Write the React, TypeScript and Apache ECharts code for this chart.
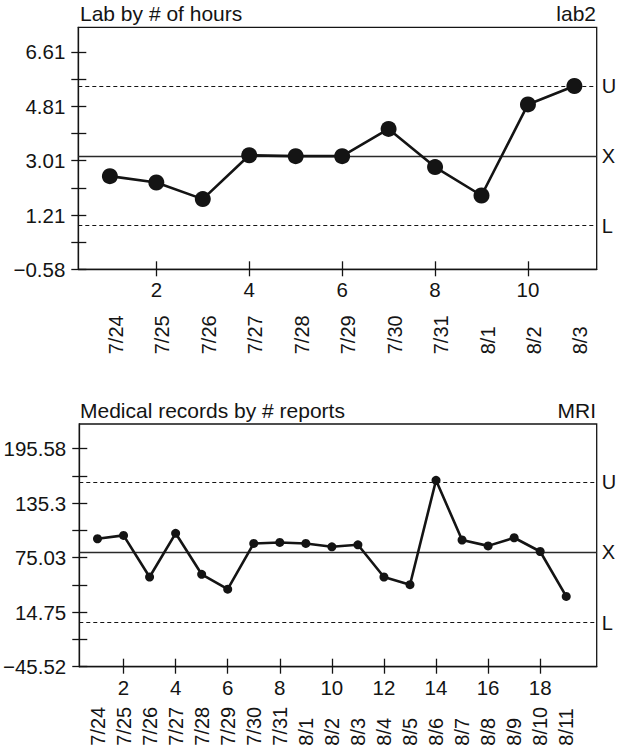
import React, { useEffect, useRef } from 'react';
import * as echarts from 'echarts';

const FONT = '"Liberation Sans", Arial, Helvetica, sans-serif';
const INK = '#141414';

// ---- Panel 1: Lab by # of hours ----
const labTitle = 'Lab by # of hours';
const labTag = 'lab2';
const labDates = ['7/24', '7/25', '7/26', '7/27', '7/28', '7/29', '7/30', '7/31', '8/1', '8/2', '8/3'];
const labValues = [2.5, 2.29, 1.74, 3.19, 3.16, 3.16, 4.06, 2.8, 1.86, 4.87, 5.48];
const labLimitNames = ['U', 'X', 'L'];
const labLimitValues = [5.48, 3.17, 0.86];
const labYTicks = [-0.58, 1.21, 3.01, 4.81, 6.61];
const labXTicks = [2, 4, 6, 8, 10];

// ---- Panel 2: Medical records by # reports ----
const mriTitle = 'Medical records by # reports';
const mriTag = 'MRI';
const mriDates = ['7/24', '7/25', '7/26', '7/27', '7/28', '7/29', '7/30', '7/31', '8/1', '8/2', '8/3', '8/4', '8/5', '8/6', '8/7', '8/8', '8/9', '8/10', '8/11'];
const mriValues = [95.9, 99.6, 53.6, 101.9, 56.6, 40.2, 90.7, 91.8, 90.7, 87.0, 89.2, 53.6, 45.1, 160.5, 94.5, 88.0, 97.0, 81.8, 32.1];
const mriLimitNames = ['U', 'X', 'L'];
const mriLimitValues = [158.2, 80.7, 3.2];
const mriYTicks = [-45.52, 14.75, 75.03, 135.3, 195.58];
const mriXTicks = [2, 4, 6, 8, 10, 12, 14, 16, 18];

const fmtNum = (v: number) => (v < 0 ? '\u2212' + String(-v) : String(v));

const withMinor = (ticks: number[]) => {
  const out: number[] = [];
  ticks.forEach((t, i) => {
    out.push(t);
    if (i < ticks.length - 1) out.push((t + ticks[i + 1]) / 2);
  });
  return out;
};

type Panel = {
  grid: any;
  xRange: [number, number];
  yRange: [number, number];
  dates: string[];
  values: number[];
  limitNames: string[];
  limitValues: number[];
  yTicks: number[];
  xTicks: number[];
  symbolSize: number;
  dateMargin: number;
  dateShift: boolean;
};

function buildPanel(p: Panel, gi: number) {
  const lineStyle = { color: INK, width: 1.3 };
  const labelBase = { color: INK, fontFamily: FONT, fontSize: 20.5 };
  const xAxes = [
    {
      type: 'value', gridIndex: gi, min: p.xRange[0], max: p.xRange[1], position: 'bottom',
      axisLine: { show: true, onZero: false, lineStyle },
      axisTick: { show: true, inside: true, length: 8, customValues: p.xTicks, lineStyle },
      axisLabel: { show: true, customValues: p.xTicks, margin: 10, ...labelBase, formatter: (v: number) => String(v) },
      splitLine: { show: false },
    },
    {
      type: 'value', gridIndex: gi, min: p.xRange[0], max: p.xRange[1], position: 'bottom',
      axisLine: { show: false, onZero: false },
      axisTick: { show: true, inside: false, length: 7, customValues: p.xTicks, lineStyle },
      axisLabel: { show: false },
      splitLine: { show: false },
    },
    {
      type: 'value', gridIndex: gi, min: p.xRange[0], max: p.xRange[1], position: 'bottom',
      axisLine: { show: false, onZero: false },
      axisTick: { show: false },
      axisLabel: {
        show: true,
        customValues: p.dates.map((_, i) => i + 1),
        formatter: (v: number) => p.dates[Math.round(v) - 1] ?? '',
        rotate: 90,
        align: 'left',
        verticalAlign: p.dateShift ? 'top' : 'middle',
        lineHeight: p.dateShift ? 12 : 20,
        margin: p.dateMargin,
        color: INK,
        fontFamily: FONT,
        fontSize: 20,
      },
      splitLine: { show: false },
    },
  ];
  const ticksAll = withMinor(p.yTicks);
  const yAxes = [
    {
      type: 'value', gridIndex: gi, min: p.yRange[0], max: p.yRange[1], position: 'left',
      axisLine: { show: true, onZero: false, lineStyle },
      axisTick: { show: true, inside: true, length: 8, customValues: ticksAll, lineStyle },
      axisLabel: { show: true, customValues: p.yTicks, margin: 13, ...labelBase, formatter: (v: number) => fmtNum(v) },
      splitLine: { show: false },
    },
    {
      type: 'value', gridIndex: gi, min: p.yRange[0], max: p.yRange[1], position: 'left',
      axisLine: { show: false, onZero: false },
      axisTick: { show: true, inside: false, length: 7, customValues: ticksAll, lineStyle },
      axisLabel: { show: false },
      splitLine: { show: false },
    },
  ];
  const series = {
    type: 'line',
    xAxisIndex: gi * 3,
    yAxisIndex: gi * 2,
    data: p.values.map((v, i) => [i + 1, v]),
    symbol: 'circle',
    symbolSize: p.symbolSize,
    itemStyle: { color: INK },
    lineStyle: { color: INK, width: 2.6 },
    z: 5,
    markLine: {
      silent: true,
      symbol: ['none', 'none'],
      z: 3,
      label: { show: true, position: 'end', distance: 5, color: INK, fontFamily: FONT, fontSize: 20 },
      data: p.limitNames.map((n, i) => ({
        yAxis: p.limitValues[i],
        lineStyle: n === 'X'
          ? { type: 'solid', color: '#2a2a2a', width: 1.3 }
          : { type: [4, 3], color: INK, width: 1.1 },
        label: { formatter: n },
      })),
    },
  };
  return { xAxes, yAxes, series };
}

export default function App() {
  const ref = useRef<HTMLDivElement>(null);
  useEffect(() => {
    if (!ref.current) return;
    const chart = echarts.init(ref.current, null, { renderer: 'svg' });
    const panels: Panel[] = [
      {
        grid: { left: 78.3, top: 27.3, width: 518.4, height: 242 },
        xRange: [0.32, 11.48], yRange: [-0.58, 7.42],
        dates: labDates, values: labValues, limitNames: labLimitNames, limitValues: labLimitValues,
        yTicks: labYTicks, xTicks: labXTicks, symbolSize: 16, dateMargin: 85, dateShift: true,
      },
      {
        grid: { left: 79, top: 424, width: 517.7, height: 242.7 },
        xRange: [0.3, 20.17], yRange: [-45.52, 222.7],
        dates: mriDates, values: mriValues, limitNames: mriLimitNames, limitValues: mriLimitValues,
        yTicks: mriYTicks, xTicks: mriXTicks, symbolSize: 9, dateMargin: 79, dateShift: false,
      },
    ];
    const built = panels.map((p, i) => buildPanel(p, i));
    const titleStyle = { color: INK, fontFamily: FONT, fontSize: 21, fontWeight: 'normal' as const };
    chart.setOption({
      animation: false,
      backgroundColor: '#ffffff',
      title: [
        { text: labTitle, left: 80, top: 3, padding: 0, textStyle: titleStyle },
        { text: labTag, right: 22, top: 3, padding: 0, textStyle: titleStyle },
        { text: mriTitle, left: 80, top: 400, padding: 0, textStyle: titleStyle },
        { text: mriTag, right: 22, top: 400, padding: 0, textStyle: titleStyle },
      ],
      grid: panels.map((p) => ({ ...p.grid, show: true, borderColor: INK, borderWidth: 1.3, containLabel: false })),
      xAxis: built.flatMap((b) => b.xAxes),
      yAxis: built.flatMap((b) => b.yAxes),
      series: built.map((b) => b.series),
    });
    return () => chart.dispose();
  }, []);
  return <div ref={ref} style={{ position: 'absolute', left: 0, top: 0, width: 618, height: 753, background: '#fff' }} />;
}
